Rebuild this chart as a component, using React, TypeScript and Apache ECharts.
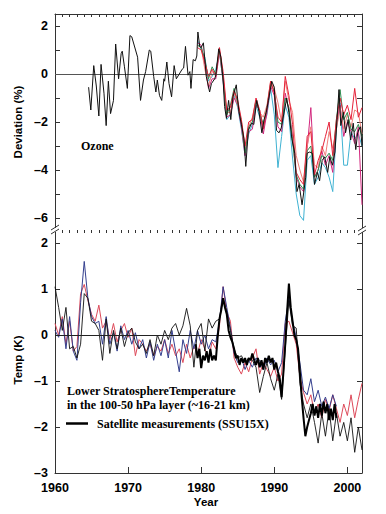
import React, { useEffect, useRef } from "react";
import * as echarts from "echarts";

// ---------- Ozone panel data ----------
const ozoneBlackYears = [
  1964.6, 1964.9, 1965.3, 1965.65, 1966.0, 1966.3, 1966.7, 1967.0, 1967.3, 1967.6,
  1968.0, 1968.3, 1968.7, 1969.05, 1969.2, 1969.5, 1969.9, 1970.25, 1970.5, 1971.3,
  1971.7, 1972.1, 1972.4, 1972.9, 1973.1, 1973.5, 1973.8, 1974.0, 1974.3, 1974.6,
  1974.9, 1975.0, 1975.3, 1975.6, 1975.95, 1976.3, 1976.6, 1977.0, 1977.4, 1977.6,
  1977.85, 1978.2, 1978.45, 1978.6, 1978.9, 1979.2, 1979.4, 1979.55, 1979.8, 1980.0,
  1980.3, 1980.7, 1981.15, 1981.4, 1981.85, 1982.0, 1982.4, 1982.7, 1983.0, 1983.2,
  1983.45, 1983.75, 1984.05, 1984.35, 1984.8, 1985.15, 1985.5, 1985.85, 1986.1, 1986.45,
  1986.9, 1987.2, 1987.6, 1987.9, 1988.3, 1988.6, 1988.9, 1989.2, 1989.65, 1990.0,
  1990.3, 1990.65, 1990.95, 1991.4, 1991.7, 1992.0, 1992.4, 1992.8, 1993.1, 1993.4,
  1993.8, 1994.0, 1994.3, 1994.5, 1994.85, 1995.2, 1995.5, 1995.9, 1996.2, 1996.55,
  1996.9, 1997.3, 1997.6, 1997.95, 1998.3, 1998.6, 1998.85, 1999.1, 1999.45, 1999.75,
  2000.1, 2000.45, 2000.8, 2001.15, 2001.4, 2001.6, 2001.8, 2002.0,
];
const ozoneBlack = [
  -0.55, -1.5, 0.35, -0.5, -1.75, 0.4, -0.8, -2.15, -0.3, -1.65,
  -1.1, 1.25, -0.2, 0.85, 0.95, 0.3, -0.6, 1.6, 1.55, 0.7,
  -1.1, -0.25, 0.1, 1.0, 0.95, -0.1, -0.75, -0.25, -0.9, -1.1,
  -0.2, -0.3, 0.5, -0.4, -0.95, 0.35, -0.2, 0.0, 0.2, 0.25,
  1.15, -0.05, 0.1, -0.6, 0.6, 0.55, 0.75, 1.75, 1.15, 1.1,
  1.3, -0.1, -0.75, -0.4, -0.2, -0.05, 1.05, 0.7, -0.25, -1.35,
  -1.85, -1.1, -1.9, -0.95, -0.45, -1.55, -2.1, -2.7, -3.85, -2.35,
  -2.05, -2.1, -1.1, -1.55, -2.45, -1.9, -1.6, -1.1, -0.3, -0.55,
  -2.35, -2.45, -2.25, -1.5, -1.0, -1.6, -2.7, -3.3, -4.9, -4.6,
  -5.45, -5.0, -4.3, -3.3, -3.25, -3.3, -4.6, -4.1, -4.45, -3.6,
  -3.45, -4.1, -3.45, -3.8, -3.25, -1.8, -0.65, -2.15, -1.6, -2.45,
  -1.9, -2.75, -2.05, -3.15, -2.45, -2.3, -2.2, -3.0,
];

const ozoneYears = [
  1979.5, 1980, 1980.5, 1981, 1981.5, 1982, 1982.5, 1983, 1983.5, 1984,
  1984.5, 1985, 1985.5, 1986, 1986.5, 1987, 1987.5, 1988, 1988.5, 1989,
  1989.5, 1990, 1990.5, 1991, 1991.5, 1992, 1992.5, 1993, 1993.5, 1994,
  1994.5, 1995, 1995.5, 1996, 1996.5, 1997, 1997.5, 1998, 1998.5, 1999,
  1999.5, 2000, 2000.5, 2001, 2001.5, 2002,
];
const ozoneRed = [
  1.1, 1.0, 0.5, -0.1, 0.2, -0.1, 1.1, 0.1, -1.5, -1.4,
  -0.7, -1.1, -1.9, -3.0, -2.0, -1.9, -1.0, -1.5, -2.3, -1.4,
  -0.3, -0.8, -1.8, -2.0, -0.1, -0.9, -2.1, -4.1, -4.4, -4.6,
  -2.6, -2.4, -4.2, -3.6, -3.2, -2.6, -2.0, -3.4, -1.9, -1.0,
  -1.7, -1.3, -1.9, -0.6, -1.8, -1.4,
];
const ozoneSalmon = [
  1.2, 1.1, 0.2, -0.5, 0.1, 0.0, 1.0, -0.1, -1.6, -1.6,
  -0.8, -1.3, -2.0, -3.2, -2.2, -1.8, -1.1, -1.6, -1.8, -1.3,
  -0.3, -0.6, -1.2, -2.0, -0.3, -1.1, -1.6, -3.4, -4.0, -4.5,
  -3.0, -2.2, -3.8, -3.9, -3.0, -3.4, -2.4, -3.1, -2.3, -1.4,
  -2.3, -1.7, -2.2, -1.5, -1.6, -2.5,
];
const ozoneMagenta = [
  1.3, 1.2, 0.4, -0.6, -0.2, -0.2, 0.9, -0.3, -1.8, -1.7,
  -1.0, -1.3, -2.2, -3.4, -2.4, -2.3, -1.3, -1.5, -2.5, -1.6,
  -0.5, -0.9, -2.2, -2.4, -0.8, -1.5, -2.6, -4.3, -4.7, -4.9,
  -3.1, -1.4, -4.3, -4.0, -3.2, -3.8, -3.4, -4.1, -2.1, -1.3,
  -2.6, -2.0, -2.4, -2.9, -2.2, -5.45,
];
const ozoneCyan = [
  1.4, 1.0, 0.7, -0.3, -0.1, 0.2, 0.9, -0.3, -1.9, -1.7,
  -0.9, -1.4, -2.3, -3.4, -2.5, -2.1, -1.3, -1.8, -2.2, -1.7,
  -0.6, -1.7, -3.9, -2.6, -1.3, -1.8, -3.5, -5.0, -5.9, -6.1,
  -3.6, -3.4, -4.6, -4.3, -3.7, -3.9, -4.3, -4.9, -2.3, -1.2,
  -3.8, -3.8, -2.4, -2.7, -2.5, -3.0,
];
const ozoneGreen = [
  1.2, 1.1, 0.6, -0.2, 0.3, 0.0, 1.0, -0.2, -1.7, -1.3,
  -0.6, -1.2, -2.0, -3.3, -2.2, -2.0, -1.1, -1.6, -2.1, -1.4,
  -0.4, -0.7, -2.0, -2.1, -1.0, -1.4, -2.8, -4.2, -4.6, -4.8,
  -3.2, -3.0, -4.3, -4.0, -3.4, -3.5, -3.3, -3.6, -1.9, -0.65,
  -1.9, -1.6, -2.3, -2.4, -2.1, -2.6,
];

// ---------- Temperature panel data ----------
const tempYears = [
  1960, 1960.5, 1961, 1961.5, 1962, 1962.5, 1963, 1963.5, 1964, 1964.5,
  1965, 1965.5, 1966, 1966.5, 1967, 1967.5, 1968, 1968.5, 1969, 1969.5,
  1970, 1970.5, 1971, 1971.5, 1972, 1972.5, 1973, 1973.5, 1974, 1974.5,
  1975, 1975.5, 1976, 1976.5, 1977, 1977.5, 1978, 1978.5, 1979, 1979.5,
  1980, 1980.5, 1981, 1981.5, 1982, 1982.5, 1983, 1983.5, 1984, 1984.5,
  1985, 1985.5, 1986, 1986.5, 1987, 1987.5, 1988, 1988.5, 1989, 1989.5,
  1990, 1990.5, 1991, 1991.5, 1992, 1992.5, 1993, 1993.5, 1994, 1994.5,
  1995, 1995.5, 1996, 1996.5, 1997, 1997.5, 1998, 1998.5, 1999, 1999.5,
  2000, 2000.5, 2001, 2001.5, 2002,
];
const tempThinBlack = [
  1.05, 0.6, 0.1, 0.6, -0.3, -0.25, -0.5, -0.2, 0.9, 0.8,
  0.3, 0.25, 0.1, -0.55, 0.35, -0.4, 0.1, -0.3, 0.15, -0.25,
  0.05, 0.15, -0.15, -0.3, -0.2, -0.4, -0.1, -0.45, 0.0, -0.2,
  0.1, -0.1, 0.15, 0.25, 0.0, 0.2, 0.58, 0.2, -0.7, 0.1,
  0.25, -0.35, 0.35, 0.15, 0.3, 0.35, 0.8, 0.5, 0.1, -0.3,
  -0.5, -0.45, -0.6, -0.5, -0.55, -0.7, -1.25, -0.9, -0.6, -0.95,
  -1.2, -0.85, -1.4, -0.3, 0.75, 0.2, 0.15, -1.05, -1.5, -1.8,
  -1.5, -1.9, -2.35, -1.7, -2.2, -1.6, -2.3, -1.7, -2.2, -1.9,
  -2.3, -1.8, -2.55, -2.0, -2.5,
];
const tempRed = [
  0.25, 0.0, 0.4, -0.2, 0.3, -0.35, -0.25, 0.9, 1.1, 0.75,
  0.45, 0.3, 0.65, 0.15, 0.3, -0.1, 0.25, -0.15, 0.1, 0.25,
  -0.05, 0.15, -0.45, -0.1, -0.2, -0.35, -0.2, -0.45, -0.25, -0.35,
  -0.1, -0.4, -0.2, -0.45, -0.3, -0.6, -0.2, -0.5, -0.25, -0.4,
  -0.1, -0.3, -0.5, -0.15, -0.3, 0.2, 1.05, 0.5, 0.3, -0.5,
  -0.7, -0.85, -0.6, -0.8, -0.5, -0.3, -0.85, -0.6, -0.75, -0.9,
  -0.7, -1.0, -0.85, 0.25, 0.3, 0.05, -0.2, -0.9, -1.25, -1.5,
  -1.3, -1.7, -1.5, -1.8, -1.4, -1.65, -1.3, -1.6, -1.9, -1.5,
  -1.75, -1.3, -1.8, -1.4, -1.05,
];
const tempBlue = [
  0.1, -0.05, 0.35, -0.3, 0.4, -0.35, -0.55, 0.7, 1.6, 0.8,
  0.4, 0.25, 0.3, -0.2, 0.4, -0.2, 0.05, -0.35, 0.2, -0.1,
  0.1, -0.2, 0.05, -0.3, -0.1, -0.5, -0.15, -0.55, -0.2, -0.45,
  -0.1, -0.5, 0.1, -0.35, -0.8, -0.1, -0.4, 0.1, -0.3, 0.1,
  -0.2, 0.0, -0.3, -0.1, -0.15, 0.3, 1.05, 0.6, 0.15, -0.4,
  -0.6, -0.5, -0.75, -0.55, -0.7, -0.5, -0.55, -0.75, -0.5, -0.65,
  -0.55, -0.8, -0.6, 0.3, 0.8, 0.3, -0.05, -0.6, -1.2, -1.3,
  -0.95, -1.45, -1.2, -1.55, -1.35, -1.6, -1.3, -1.55,
];
const satYears = [
  1979.25, 1979.5, 1979.75,
  1980, 1980.25, 1980.5, 1980.75, 1981, 1981.25, 1981.5, 1981.75,
  1982, 1982.25, 1982.5, 1982.75, 1983, 1983.25, 1983.5, 1983.75,
  1984, 1984.25, 1984.5, 1984.75, 1985, 1985.25, 1985.5, 1985.75,
  1986, 1986.25, 1986.5, 1986.75, 1987, 1987.25, 1987.5, 1987.75,
  1988, 1988.25, 1988.5, 1988.75, 1989, 1989.25, 1989.5, 1989.75,
  1990, 1990.25, 1990.5, 1990.75, 1991, 1991.25, 1991.5, 1991.75,
  1992, 1992.25, 1992.5, 1992.75, 1993, 1993.25, 1993.5, 1993.75,
  1994, 1994.25, 1994.5, 1994.75, 1995, 1995.25, 1995.5, 1995.75,
  1996, 1996.25, 1996.5, 1996.75, 1997, 1997.25, 1997.5, 1997.75,
  1998, 1998.25, 1998.5,
];
const satValues = [
  -0.2, -0.5, -0.3,
  -0.72, -0.45, -0.55, -0.35, -0.6, -0.3, -0.55, -0.45,
  -0.55, -0.05, 0.35, 0.55, 0.8, 0.6, 0.45, 0.1,
  -0.05, -0.15, -0.3, -0.5, -0.45, -0.65, -0.5, -0.6,
  -0.5, -0.65, -0.5, -0.55, -0.4, -0.55, -0.65, -0.5,
  -0.7, -0.55, -0.75, -0.5, -0.6, -0.45, -0.6, -0.5,
  -0.75, -0.6, -0.8, -0.95, -1.35, -0.8, -0.2, 0.5,
  1.12, 0.6, 0.3, 0.0, -0.1, -0.3, -0.8, -1.35,
  -1.8, -2.2, -2.0, -1.85, -1.7, -1.5, -1.75, -1.55,
  -1.8, -1.5, -1.75, -1.45, -1.7, -1.5, -1.85, -1.6,
  -1.85, -1.5, -1.8,
];

// ---------- Axis ticks ----------
const yearTicks = Array.from({ length: 43 }, (_, i) => 1960 + i);
const decadeTicks = [1960, 1970, 1980, 1990, 2000];
const ozoneTicks = [-6, -5, -4, -3, -2, -1, 0, 1, 2];
const ozoneLabels = [-6, -4, -2, 0, 2];
const tempTicks = [-3, -2, -1, 0, 1, 2];

function zip(xs: number[], ys: number[]) {
  return ys.map((v, i) => [xs[i], v]);
}

const SANS = '"Liberation Sans", Arial, sans-serif';
const SERIF = '"Liberation Serif", "Times New Roman", serif';
const AX = "#333";

function minus(v: number) {
  return v < 0 ? "\u2013" + Math.abs(v) : String(v);
}

export default function App() {
  const ref = useRef<HTMLDivElement>(null);
  useEffect(() => {
    if (!ref.current) return;
    const chart = echarts.init(ref.current, null, { renderer: "svg" });
    const labelStyle = {
      color: "#000",
      fontFamily: SANS,
      fontWeight: "bold" as const,
      fontSize: 12.5,
    };
    const lineSeries = (
      name: string,
      data: number[][],
      color: string,
      width: number,
      xi: number,
      yi: number,
      z: number,
      extra: any = {}
    ) => ({
      name,
      type: "line",
      xAxisIndex: xi,
      yAxisIndex: yi,
      data,
      symbol: "none",
      showSymbol: false,
      z,
      lineStyle: { color, width },
      silent: true,
      ...extra,
    });
    const zeroLine = (color: string) => ({
      markLine: {
        silent: true,
        symbol: "none",
        label: { show: false },
        lineStyle: { color, width: 1, type: "solid" },
        data: [{ yAxis: 0 }],
      },
    });

    const option: any = {
      animation: false,
      backgroundColor: "#fff",
      grid: [
        { left: 55, right: 24, top: 14, height: 216 },
        { left: 55, right: 24, top: 230, height: 243 },
      ],
      xAxis: [
        { gridIndex: 0, type: "value", min: 1960, max: 2002, show: false },
        {
          gridIndex: 0,
          type: "value",
          position: "top",
          min: 1960,
          max: 2002,
          axisLine: { show: true, onZero: false, lineStyle: { color: AX, width: 1 } },
          axisTick: { show: true, inside: true, length: 3, customValues: yearTicks, lineStyle: { color: AX } },
          axisLabel: { show: false },
          splitLine: { show: false },
        },
        {
          gridIndex: 1,
          type: "value",
          min: 1960,
          max: 2002,
          axisLine: { show: true, onZero: false, lineStyle: { color: AX, width: 1 } },
          axisTick: { show: true, inside: true, length: 6, customValues: decadeTicks, lineStyle: { color: AX } },
          axisLabel: { ...labelStyle, margin: 8, customValues: decadeTicks, formatter: (v: number) => String(v) },
          splitLine: { show: false },
        },
        {
          gridIndex: 1,
          type: "value",
          min: 1960,
          max: 2002,
          axisLine: { show: false, onZero: false },
          axisTick: { show: true, inside: true, length: 3, customValues: yearTicks, lineStyle: { color: AX } },
          axisLabel: { show: false },
          splitLine: { show: false },
        },
      ],
      yAxis: [
        {
          gridIndex: 0,
          type: "value",
          min: -6.5,
          max: 2.5,
          position: "left",
          axisLine: { show: true, onZero: false, lineStyle: { color: AX } },
          axisTick: { show: true, inside: true, length: 5, customValues: ozoneTicks, lineStyle: { color: AX } },
          axisLabel: { ...labelStyle, margin: 7, customValues: ozoneLabels, formatter: minus },
          splitLine: { show: false },
        },
        {
          gridIndex: 0,
          type: "value",
          min: -6.5,
          max: 2.5,
          position: "right",
          axisLine: { show: true, onZero: false, lineStyle: { color: AX } },
          axisTick: { show: true, inside: true, length: 5, customValues: ozoneTicks, lineStyle: { color: AX } },
          axisLabel: { show: false },
          splitLine: { show: false },
        },
        {
          gridIndex: 1,
          type: "value",
          min: -3,
          max: 2.283,
          position: "left",
          axisLine: { show: true, onZero: false, lineStyle: { color: AX } },
          axisTick: { show: true, inside: true, length: 5, customValues: tempTicks, lineStyle: { color: AX } },
          axisLabel: { ...labelStyle, margin: 7, customValues: tempTicks, formatter: minus },
          splitLine: { show: false },
        },
        {
          gridIndex: 1,
          type: "value",
          min: -3,
          max: 2.283,
          position: "right",
          axisLine: { show: true, onZero: false, lineStyle: { color: AX } },
          axisTick: { show: true, inside: true, length: 5, customValues: tempTicks, lineStyle: { color: AX } },
          axisLabel: { show: false },
          splitLine: { show: false },
        },
      ],
      series: [
        lineSeries("Cyan", zip(ozoneYears, ozoneCyan), "#3fb2d2", 1, 0, 0, 2, zeroLine("#555")),
        lineSeries("Magenta", zip(ozoneYears, ozoneMagenta), "#d2287e", 1, 0, 0, 3),
        lineSeries("Salmon", zip(ozoneYears, ozoneSalmon), "#ef7f7a", 1, 0, 0, 3),
        lineSeries("Green", zip(ozoneYears, ozoneGreen), "#2e8b4e", 1, 0, 0, 3),
        lineSeries("Red", zip(ozoneYears, ozoneRed), "#e5223a", 1, 0, 0, 4),
        lineSeries("Ozone black", zip(ozoneBlackYears, ozoneBlack), "#111", 1, 0, 0, 5),
        lineSeries("Temp red", zip(tempYears, tempRed), "#dd4a5a", 1, 2, 2, 2, zeroLine("#222")),
        lineSeries("Temp blue", zip(tempYears, tempBlue), "#343f8e", 1, 2, 2, 3),
        lineSeries("Temp black", zip(tempYears, tempThinBlack), "#111", 0.9, 2, 2, 4),
        lineSeries("Satellite measurements (SSU15X)", zip(satYears, satValues), "#000", 2, 2, 2, 5),
      ],
      graphic: [
        // axis break marks
        { type: "rect", shape: { x: 50, y: 228, width: 10, height: 4 }, style: { fill: "#fff" }, z: 100 },
        { type: "line", shape: { x1: 51, y1: 230, x2: 59, y2: 225 }, style: { stroke: AX, lineWidth: 1 }, z: 101 },
        { type: "line", shape: { x1: 51, y1: 234, x2: 59, y2: 229 }, style: { stroke: AX, lineWidth: 1 }, z: 101 },
        { type: "rect", shape: { x: 357, y: 228, width: 10, height: 4 }, style: { fill: "#fff" }, z: 100 },
        { type: "line", shape: { x1: 358, y1: 231, x2: 366, y2: 226 }, style: { stroke: AX, lineWidth: 1 }, z: 101 },
        { type: "line", shape: { x1: 358, y1: 235, x2: 366, y2: 230 }, style: { stroke: AX, lineWidth: 1 }, z: 101 },
        // axis titles
        {
          type: "text",
          x: 18,
          y: 122,
          rotation: Math.PI / 2,
          style: { text: "Deviation (%)", font: `bold 11.5px ${SANS}`, fill: "#000", align: "center", verticalAlign: "middle" },
        },
        {
          type: "text",
          x: 18,
          y: 360,
          rotation: Math.PI / 2,
          style: { text: "Temp (K)", font: `bold 11.5px ${SANS}`, fill: "#000", align: "center", verticalAlign: "middle" },
        },
        {
          type: "text",
          x: 206,
          y: 502,
          style: { text: "Year", font: `bold 11.5px ${SANS}`, fill: "#000", align: "center", verticalAlign: "middle" },
        },
        // annotations
        {
          type: "text",
          x: 81,
          y: 146,
          style: { text: "Ozone", font: `bold 12px ${SERIF}`, fill: "#000", align: "left", verticalAlign: "middle" },
        },
        {
          type: "text",
          x: 67,
          y: 391,
          style: { text: "Lower StratosphereTemperature", font: `bold 12px ${SERIF}`, fill: "#000", align: "left", verticalAlign: "middle" },
        },
        {
          type: "text",
          x: 67,
          y: 405,
          style: { text: "in the 100-50 hPa layer (~16-21 km)", font: `bold 12px ${SERIF}`, fill: "#000", align: "left", verticalAlign: "middle" },
        },
        { type: "line", shape: { x1: 66, y1: 423.5, x2: 88, y2: 423.5 }, style: { stroke: "#000", lineWidth: 2.5 } },
        {
          type: "text",
          x: 97,
          y: 423.5,
          style: { text: "Satellite measurements (SSU15X)", font: `bold 12px ${SERIF}`, fill: "#000", align: "left", verticalAlign: "middle" },
        },
      ],
    };
    chart.setOption(option);
    return () => chart.dispose();
  }, []);
  return <div ref={ref} style={{ width: 386, height: 514, position: "absolute", left: 0, top: 0 }} />;
}
